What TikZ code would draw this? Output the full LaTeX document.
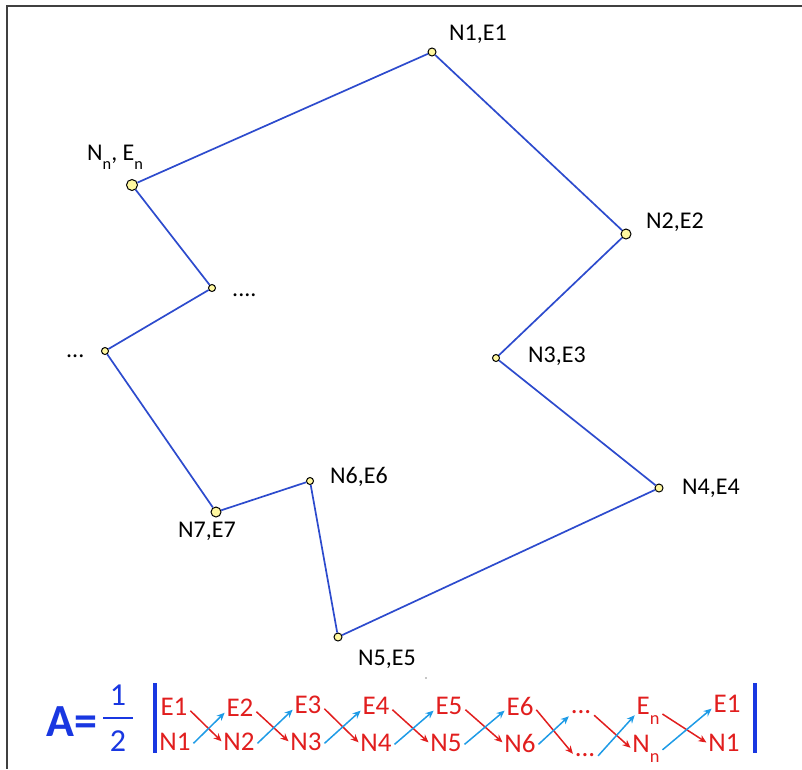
\documentclass[tikz,border=0pt]{standalone}
\usepackage{fontspec}
\setmainfont{Carlito}
\usetikzlibrary{arrows.meta,calc}
\definecolor{polyblue}{RGB}{45,75,205}
\definecolor{dotfill}{RGB}{255,248,160}
\definecolor{fblue}{RGB}{25,55,225}
\definecolor{fred}{RGB}{225,30,30}
\definecolor{fcyan}{RGB}{30,155,230}
\newcommand{\lowsub}[1]{\raisebox{-0.38em}{\fontsize{0.68em}{0.68em}\selectfont #1}}
\begin{document}
\begin{tikzpicture}[x=1pt,y=-1pt,
  vtx/.style={circle,draw=black,fill=dotfill,line width=1pt,inner sep=0pt,minimum size=#1},
  vtx/.default=8pt,
  lbl/.style={anchor=base west,inner sep=0pt,font=\fontsize{24}{28}\selectfont},
  polyline/.style={draw=polyblue,line width=1.7pt},
  term/.style={text=fred,inner sep=1pt,font=\fontsize{27}{30}\selectfont},
  rarr/.style={draw=fred,line width=1.5pt,-{Stealth[length=8pt,width=7pt]},shorten <=1pt,shorten >=1pt},
  barr/.style={draw=fcyan,line width=1.5pt,-{Stealth[length=8pt,width=7pt]},shorten <=1pt,shorten >=1pt},
  fbar/.style={draw=fblue,line width=3.5pt},
]
\useasboundingbox (0,0) rectangle (802,769);
\draw[black!75,line width=1.6pt] (802,6) -- (7,6) -- (7,769);

% vertices
\node[vtx=8pt]  (N1) at (432,52) {};
\node[vtx=10pt] (N2) at (626,234) {};
\node[vtx=7pt]  (N3) at (496,358) {};
\node[vtx=8pt]  (N4) at (659,488) {};
\node[vtx=8pt]  (N5) at (338,637) {};
\node[vtx=7pt]  (N6) at (310,481) {};
\node[vtx=10pt] (N7) at (216,512) {};
\node[vtx=7pt]  (D1) at (105,351) {};
\node[vtx=7pt]  (D2) at (212,288) {};
\node[vtx=11pt] (Nn) at (132,185) {};

\draw[polyline] (N1) -- (N2) -- (N3) -- (N4) -- (N5) -- (N6) -- (N7) -- (D1) -- (D2) -- (Nn) -- (N1);

% labels
\node[lbl] (L1) at (449,40) {N1,E1};
\node[lbl] (L2) at (646,228) {N2,E2};
\node[lbl] (L3) at (528,362) {N3,E3};
\node[lbl] (L4) at (682,494) {N4,E4};
\node[lbl] (L5) at (358,665) {N5,E5};
\node[lbl] (L6) at (330,483) {N6,E6};
\node[lbl] (L7) at (178,537) {N7,E7};
\node[lbl] (Ln) at (87,160) {N\lowsub{n}, E\lowsub{n}};
\node[lbl] (LD2) at (232,296) {....};
\node[lbl] (LD1) at (66,357) {...};
\fill[black!45] (426,678) circle (0.9);

% formula
\node[anchor=base west,inner sep=0pt,text=fblue,font=\bfseries\fontsize{46}{50}\selectfont] (A) at (46,736) {A=};
\node[text=fblue,inner sep=0pt,font=\fontsize{32}{36}\selectfont] (one) at (118,695) {1};
\node[text=fblue,inner sep=0pt,font=\fontsize{32}{36}\selectfont] (two) at (118,741) {2};
\draw[draw=fblue,line width=2.5pt] (103,718) -- (133,718);
\draw[fbar] (155,683) -- (155,753);
\draw[fbar] (755,683) -- (755,753);

\node[term] (e1) at (174,707) {E1};
\node[term] (n1) at (175,742) {N1};
\node[term] (e2) at (240,708) {E2};
\node[term] (n2) at (239,742) {N2};
\node[term] (e3) at (308,705) {E3};
\node[term] (n3) at (306,742) {N3};
\node[term] (e4) at (376,706) {E4};
\node[term] (n4) at (376,743) {N4};
\node[term] (e5) at (449,706) {E5};
\node[term] (n5) at (446,743) {N5};
\node[term] (e6) at (520,706) {E6};
\node[term] (n6) at (520,743) {N6};
\node[term,anchor=base] (et) at (581,713) {...};
\node[term,anchor=base] (nb) at (585,756) {...};
\node[term,anchor=base] (en) at (648,714) {E\lowsub{n}};
\node[term,anchor=base] (nn) at (646,752) {N\lowsub{n}};
\node[term] (e1b) at (727,704) {E1};
\node[term] (n1b) at (724,743) {N1};

\foreach \a/\b in {e1/n2,e2/n3,e3/n4,e4/n5,e5/n6,e6/nb,et/nn,en/n1b}
  \draw[rarr] ($(\a.east)+(1,3)$) -- (\b.west);
\foreach \a/\b in {n1/e2,n2/e3,n3/e4,n4/e5,n5/e6,n6/et,nb/en,nn/e1b}
  \draw[barr] ($(\a.east)+(1,2)$) -- ($(\b.west)+(0,4)$);
\end{tikzpicture}
\end{document}
